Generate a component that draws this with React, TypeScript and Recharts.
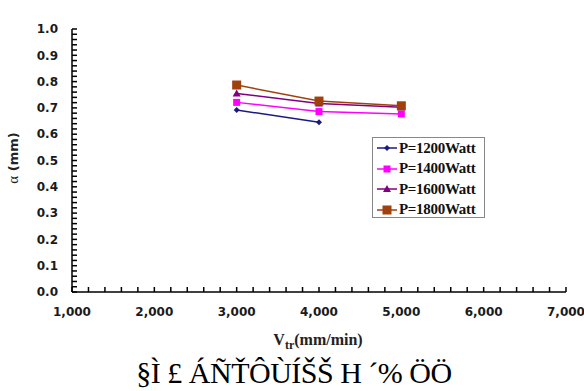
import { LineChart, Line, XAxis, YAxis } from "recharts";

const speeds = [3000, 4000, 5000];
const p1200 = [0.692, 0.645, null];
const p1400 = [0.721, 0.686, 0.677];
const p1600 = [0.755, 0.717, 0.702];
const p1800 = [0.787, 0.726, 0.708];

const seriesNames = ["P=1200Watt", "P=1400Watt", "P=1600Watt", "P=1800Watt"];
const seriesColors = ["#1a1a80", "#ff00ff", "#800080", "#a0400d"];
const seriesShapes = ["diamond", "square", "triangle", "bigsquare"];

const xTickLabels = [1000, 2000, 3000, 4000, 5000, 6000, 7000];
const yTickLabels = [0, 0.1, 0.2, 0.3, 0.4, 0.5, 0.6, 0.7, 0.8, 0.9, 1.0];

// minor tick marks between the labelled ones
const xTicks = Array.from({ length: 31 }, (_, i) => 1000 + i * 200);
const yTicks = Array.from({ length: 51 }, (_, i) => Math.round(i * 2) / 100);

const data = speeds.map((v, i) => ({
  v,
  p1200: p1200[i],
  p1400: p1400[i],
  p1600: p1600[i],
  p1800: p1800[i],
}));

const keys = ["p1200", "p1400", "p1600", "p1800"];

function Marker({ shape, color, cx, cy }: { shape: string; color: string; cx: number; cy: number }) {
  if (shape === "diamond") {
    return <path d={`M${cx},${cy - 3} L${cx + 3},${cy} L${cx},${cy + 3} L${cx - 3},${cy} Z`} fill={color} />;
  }
  if (shape === "square") {
    return <rect x={cx - 3.5} y={cy - 3.5} width={7} height={7} fill={color} />;
  }
  if (shape === "triangle") {
    return <path d={`M${cx},${cy - 4} L${cx + 4},${cy + 3} L${cx - 4},${cy + 3} Z`} fill={color} />;
  }
  return <rect x={cx - 4.5} y={cy - 4.5} width={9} height={9} fill={color} />;
}

const makeDot = (shape: string, color: string) => (props: any) => {
  const { cx, cy, index } = props;
  if (cx == null || cy == null || props.value == null) return <g key={index} />;
  return (
    <g key={index}>
      <Marker shape={shape} color={color} cx={cx} cy={cy} />
    </g>
  );
};

const tickStyle = { fill: "#1a1a1a", fontSize: 12, fontWeight: 700, fontFamily: "DejaVu Sans, Verdana, sans-serif" };

const isLabelled = (list: number[], t: number) => list.some((l) => Math.abs(l - t) < 1e-6);

export default function App() {
  return (
    <div style={{ position: "absolute", left: 0, top: 0, width: 584, height: 391, overflow: "hidden", background: "#fff" }}>
      <LineChart width={584} height={391} data={data} margin={{ top: 29, right: 18, bottom: 0, left: 12 }}>
        <XAxis
          dataKey="v"
          type="number"
          domain={[1000, 7000]}
          ticks={xTicks}
          interval={0}
          tickFormatter={(t: number) => (isLabelled(xTickLabels, t) ? t.toLocaleString("en-US") : "")}
          tickSize={-5}
          tickMargin={20}
          height={99}
          stroke="#000"
          strokeWidth={1.5}
          tick={tickStyle}
        />
        <YAxis
          type="number"
          domain={[0, 1]}
          ticks={yTicks}
          interval={0}
          tickFormatter={(t: number) => (isLabelled(yTickLabels, t) ? t.toFixed(1) : "")}
          tickSize={-5}
          tickMargin={19}
          width={60}
          stroke="#000"
          strokeWidth={1.5}
          tick={tickStyle}
        />
        {keys.map((k, i) => (
          <Line
            key={k}
            dataKey={k}
            stroke={seriesColors[i]}
            strokeWidth={1.5}
            dot={makeDot(seriesShapes[i], seriesColors[i])}
            activeDot={false}
            connectNulls={false}
            isAnimationActive={false}
          />
        ))}
      </LineChart>

      {/* legend */}
      <div
        style={{
          position: "absolute",
          left: 372,
          top: 137,
          width: 111,
          height: 79,
          border: "1px solid #888",
          background: "#fff",
        }}
      >
        {seriesNames.map((name, i) => (
          <div key={name} style={{ position: "absolute", left: 3, top: 1 + i * 20.5, height: 18, display: "flex", alignItems: "center" }}>
            <svg width={22} height={14}>
              <line x1={1} y1={7} x2={21} y2={7} stroke={seriesColors[i]} strokeWidth={1.5} />
              <Marker shape={seriesShapes[i]} color={seriesColors[i]} cx={11} cy={7} />
            </svg>
            <span
              style={{
                marginLeft: 1,
                fontFamily: "Liberation Serif, Times New Roman, serif",
                fontWeight: 700,
                fontSize: 15,
                letterSpacing: -0.3,
                color: "#111",
                whiteSpace: "nowrap",
              }}
            >
              {name}
            </span>
          </div>
        ))}
      </div>

      {/* y axis title */}
      <div
        style={{
          position: "absolute",
          left: 13,
          top: 158,
          transform: "translate(-50%, -50%) rotate(-90deg)",
          whiteSpace: "nowrap",
          fontSize: 13,
          fontWeight: 700,
          fontFamily: "DejaVu Sans, sans-serif",
          color: "#222",
        }}
      >
        <span style={{ fontFamily: "Liberation Serif, serif", fontWeight: 400, fontSize: 15 }}>α</span> (mm)
      </div>

      {/* x axis title */}
      <div
        style={{
          position: "absolute",
          left: 318,
          top: 340,
          transform: "translate(-50%, -50%)",
          whiteSpace: "nowrap",
          fontSize: 16,
          fontWeight: 700,
          fontFamily: "Liberation Serif, serif",
          color: "#222",
        }}
      >
        V<span style={{ fontSize: 12, position: "relative", top: 4 }}>tr</span>(mm/min)
      </div>

      {/* caption */}
      <div
        style={{
          position: "absolute",
          left: 294,
          top: 357,
          transform: "translateX(-50%)",
          whiteSpace: "nowrap",
          fontSize: 30,
          lineHeight: "32px",
          fontFamily: "Liberation Serif, serif",
          color: "#000",
          letterSpacing: -0.5,
        }}
      >
        §Ì £ ÁÑŤÔÙÍŠŠ H ´% ÖÖ
      </div>
    </div>
  );
}
